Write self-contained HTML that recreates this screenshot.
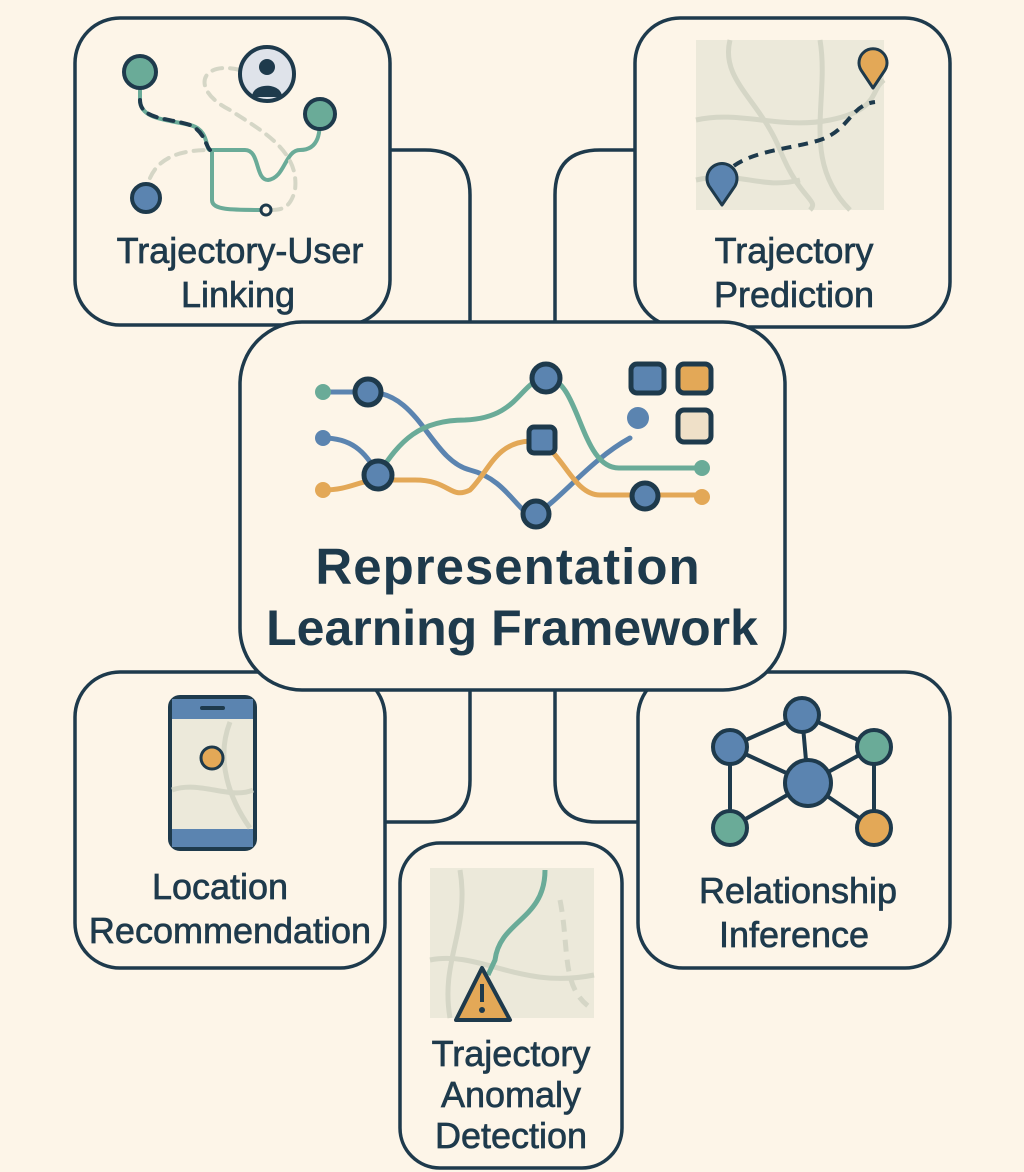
<!DOCTYPE html>
<html><head><meta charset="utf-8"><style>
body{margin:0;background:#fdf5e8;}
svg{display:block}
text{font-family:"Liberation Sans","DejaVu Sans",sans-serif;fill:#1e3a4c;text-anchor:middle}
.l{font-size:36px;stroke:#1e3a4c;stroke-width:0.7px}
</style></head><body>
<svg width="1024" height="1172" viewBox="0 0 1024 1172">
<rect width="1024" height="1172" fill="#fdf5e8"/>
<g fill="none" stroke="#1e3a4c" stroke-width="3.5">
<path d="M390,150 H425 Q470,150 470,195 V322"/>
<path d="M635,150 H600 Q555,150 555,195 V322"/>
<path d="M470,690 V780 Q470,822 428,822 H385"/>
<path d="M555,690 V780 Q555,822 597,822 H638"/>
<rect x="75" y="18" width="315" height="307" rx="45"/>
<rect x="635" y="18" width="315" height="309" rx="45"/>
<rect x="75" y="672" width="310" height="296" rx="45"/>
<rect x="638" y="672" width="312" height="296" rx="45"/>
<rect x="400" y="843" width="222" height="325" rx="40" fill="#fdf5e8"/>
<rect x="240" y="322" width="545" height="368" rx="62" fill="#fdf5e8"/>
</g>
<g fill="none" stroke-width="5" stroke-linecap="round">
<path d="M323,392 H368 C420,392 430,460 470,470 C510,480 520,520 536,514 C560,500 590,460 630,438" stroke="#5b84b0"/>
<path d="M323,438 C350,438 365,450 378,475" stroke="#5b84b0"/>
<path d="M378,475 C400,440 420,420 465,420 C520,418 520,380 546,378 C580,378 580,470 620,468 H702" stroke="#6aab98"/>
<path d="M323,490 C350,490 360,480 378,480 H415 C450,480 450,500 470,490 C490,470 495,443 530,441 C560,440 570,495 600,495 H702" stroke="#e3a857"/>
</g>
<circle cx="323" cy="392" r="8" fill="#6aab98"/>
<circle cx="323" cy="438" r="8" fill="#5b84b0"/>
<circle cx="323" cy="490" r="8" fill="#e3a857"/>
<circle cx="702" cy="468" r="8" fill="#6aab98"/>
<circle cx="702" cy="497" r="8" fill="#e3a857"/>
<circle cx="638" cy="418" r="11" fill="#5b84b0"/>
<g fill="#5b84b0" stroke="#1e3a4c" stroke-width="5">
<circle cx="368" cy="392" r="13"/>
<circle cx="378" cy="475" r="14"/>
<circle cx="546" cy="378" r="14"/>
<circle cx="536" cy="514" r="13"/>
<circle cx="645" cy="496" r="13"/>
<rect x="529" y="427" width="26" height="26" rx="5"/>
<rect x="631" y="364" width="33" height="29" rx="6"/>
<rect x="678" y="364" width="33" height="29" rx="6" fill="#e3a857"/>
<rect x="678" y="410" width="33" height="32" rx="6" fill="#efe0c8"/>
</g>
<text x="508" y="584" font-size="51" font-weight="bold" letter-spacing="1">Representation</text>
<text x="512" y="645" font-size="50" font-weight="bold">Learning Framework</text>
<g fill="none" stroke-width="4" stroke-linecap="round">
<path d="M140,85 V100 C140,120 170,120 190,125 C210,130 205,150 210,150 H245 C260,150 255,180 268,180 C285,178 285,150 300,150 C320,150 320,130 320,118" stroke="#6aab98"/>
<path d="M212,150 V200 C212,210 230,210 265,210" stroke="#6aab98"/>
<path d="M140,100 C140,120 170,118 190,125 C205,132 205,145 210,150" stroke="#1e3a4c" stroke-dasharray="9,8"/>
<path d="M150,178 C160,155 185,150 210,150" stroke="#d5d6c6" stroke-dasharray="10,8"/>
<path d="M240,70 C200,60 190,90 230,110 C260,130 300,150 295,190 C290,210 280,210 268,210" stroke="#d5d6c6" stroke-dasharray="10,8"/>
</g>
<circle cx="140" cy="72" r="16" fill="#6aab98" stroke="#1e3a4c" stroke-width="4"/>
<circle cx="320" cy="114" r="15" fill="#6aab98" stroke="#1e3a4c" stroke-width="4"/>
<circle cx="146" cy="198" r="14" fill="#5b84b0" stroke="#1e3a4c" stroke-width="4"/>
<circle cx="266" cy="210" r="5" fill="#fdf5e8" stroke="#1e3a4c" stroke-width="3"/>
<circle cx="267" cy="74" r="27" fill="#dfe3ea" stroke="#1e3a4c" stroke-width="4"/>
<circle cx="267" cy="67" r="8" fill="#1e3a4c"/>
<path d="M252,97 C252,82 282,82 282,97 Z" fill="#1e3a4c"/>
<text class="l" x="240" y="263">Trajectory-User</text>
<text class="l" x="238" y="307">Linking</text>
<rect x="696" y="40" width="188" height="170" fill="#ece9da"/>
<g fill="none" stroke="#d5d6c6" stroke-width="5">
<path d="M696,120 C740,110 780,130 830,120 S870,90 884,80"/>
<path d="M730,40 C720,80 760,100 780,150 S820,200 810,210"/>
<path d="M820,40 C830,100 800,160 850,210"/>
<path d="M696,180 C740,170 760,190 800,180"/>
</g>
<path d="M722,178 C740,150 790,150 820,140 C850,130 850,105 875,102" fill="none" stroke="#1e3a4c" stroke-width="4" stroke-dasharray="10,7"/>
<path d="M873,88 L861,70 A14,14 0 1 1 885,70 Z" fill="#e3a857" stroke="#1e3a4c" stroke-width="3" stroke-linejoin="round"/>
<path d="M722,205 L709,186 A15,15 0 1 1 735,186 Z" fill="#5b84b0" stroke="#1e3a4c" stroke-width="3" stroke-linejoin="round"/>
<text class="l" x="794" y="263">Trajectory</text>
<text class="l" x="794" y="307">Prediction</text>
<rect x="170" y="697" width="85" height="152" rx="10" fill="#ece9da" stroke="#1e3a4c" stroke-width="4"/>
<rect x="172" y="699" width="81" height="20" fill="#5b84b0"/>
<rect x="172" y="829" width="81" height="18" fill="#5b84b0"/>
<rect x="200" y="706" width="25" height="4" rx="2" fill="#1e3a4c"/>
<g fill="none" stroke="#d5d6c6" stroke-width="5"><path d="M172,790 C200,780 230,800 253,790"/><path d="M230,722 C215,760 230,800 250,828"/></g>
<circle cx="212" cy="758" r="11" fill="#e3a857" stroke="#1e3a4c" stroke-width="3"/>
<text class="l" x="220" y="899">Location</text>
<text class="l" x="230" y="943">Recommendation</text>
<g stroke="#1e3a4c" stroke-width="4" fill="none">
<path d="M730,747 L802,715 L874,747 L874,828 M730,747 L730,828 M802,715 L808,783 M730,747 L808,783 L874,747 M730,828 L808,783 L874,828"/>
</g>
<g stroke="#1e3a4c" stroke-width="4">
<circle cx="802" cy="715" r="17" fill="#5b84b0"/>
<circle cx="730" cy="747" r="17" fill="#5b84b0"/>
<circle cx="874" cy="747" r="17" fill="#6aab98"/>
<circle cx="808" cy="783" r="23" fill="#5b84b0"/>
<circle cx="730" cy="828" r="17" fill="#6aab98"/>
<circle cx="874" cy="828" r="17" fill="#e3a857"/>
</g>
<text class="l" x="798" y="903">Relationship</text>
<text class="l" x="794" y="947">Inference</text>
<rect x="430" y="868" width="164" height="150" fill="#ece9da"/>
<g fill="none" stroke-width="5">
<path d="M430,960 C480,950 520,990 594,975" stroke="#d5d6c6"/>
<path d="M460,870 C470,930 440,960 450,1018" stroke="#d5d6c6"/>
<path d="M560,900 C570,950 560,990 594,1010" stroke="#d5d6c6" stroke-dasharray="12,8"/>
<path d="M545,870 C545,920 500,920 495,960 L488,975" stroke="#6aab98"/>
</g>
<path d="M482,968 L510,1020 H456 Z" fill="#e3a857" stroke="#1e3a4c" stroke-width="4" stroke-linejoin="round"/>
<rect x="480" y="984" width="4" height="18" fill="#1e3a4c"/><circle cx="482" cy="1010" r="3" fill="#1e3a4c"/>
<text class="l" x="511" y="1066">Trajectory</text>
<text class="l" x="511" y="1107">Anomaly</text>
<text class="l" x="511" y="1148">Detection</text>
</svg>
</body></html>
